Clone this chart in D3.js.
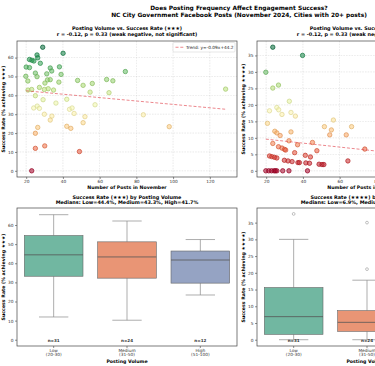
<!DOCTYPE html>
<html><head><meta charset="utf-8">
<script src="https://cdn.jsdelivr.net/npm/d3@7"></script>
<style>body{margin:0;background:#fff} svg text{font-family:"DejaVu Sans",sans-serif}</style>
</head><body><svg id="c" width="375" height="366"></svg>
<script>
// ---------------- DATA ----------------
const postsA = [29.0,40.1,21.8,23.1,24.2,25.9,26.3,27.7,20.0,21.8,33.1,33.9,38.1,19.8,20.9,25.0,25.9,31.2,39.0,74.0,31.6,33.1,30.2,37.8,48.0,51.0,56.0,63.8,67.2,27.2,32.0,29.9,34.9,21.0,23.0,54.8,65.1,25.0,29.2,42.1,36.2,57.5,24.1,26.0,27.2,43.6,45.0,29.9,46.1,34.0,33.1,52.0,51.0,83.8,97.9,42.1,44.3,26.3,25.0,25.0,30.1,49.0,23.0,128.6];
const rate3 = [65.5,62.3,59.0,58.6,58.2,61.4,59.9,57.0,55.0,54.7,54.5,52.9,55.1,50.1,47.6,51.8,49.9,51.4,51.1,52.6,48.2,48.3,46.5,47.0,47.9,45.3,46.3,48.4,47.7,44.2,43.5,43.1,42.8,42.8,43.1,41.7,41.4,39.8,37.7,37.9,35.9,35.0,33.3,34.3,33.1,32.6,33.3,30.0,30.4,29.0,26.9,28.7,25.5,29.7,23.4,23.6,22.5,23.0,19.9,11.9,13.2,10.2,0.0,43.3];
const postsB = [23.6,39.8,19.8,23.6,26.7,32.6,21.8,25.8,26.8,28.6,33.5,35.9,20.7,56.6,51.7,55.5,66.5,54.6,63.6,24.7,25.8,27.6,33.5,32.4,23.6,37.1,45.2,26.7,28.6,30.0,30.6,47.6,35.5,21.8,23.1,24.5,25.8,41.3,44.1,29.9,31.9,34.1,37.3,38.1,41.6,43.6,48.8,50.4,51.4,64.5,73.7,19.8,21.4,22.9,24.3,25.0,25.8,29.0,32.4,42.5];
const rate4 = [37.5,35.0,29.9,25.1,26.0,21.1,18.2,19.2,18.5,17.1,17.7,16.6,14.4,15.4,13.4,12.4,13.4,10.9,10.9,12.0,11.5,10.7,11.8,9.1,8.3,7.9,8.6,7.3,6.9,6.5,6.3,6.1,5.5,4.5,4.3,4.1,3.9,4.7,4.2,3.2,3.0,2.8,2.5,2.5,2.4,2.3,2.0,1.9,1.9,3.0,6.6,0,0,0,0,0,0,0,0,0];
const trendA = {slope:-0.09, intercept:44.2, x0:20, x1:128.6};
const trendB = {slope:-0.06, intercept:10.8, x0:19.8, x1:128.6};
const groups = ["Low\n(20-30)","Medium\n(31-50)","High\n(51-100)"];
const groupN = [31,24,12];
// box stats: [whiskerLow, q1, median, q3, whiskerHigh]
const box3 = [[11.9,33.2,44.4,54.5,65.4],[10.2,32.2,43.3,51.2,62.1],[23.4,29.6,41.7,46.4,52.4]];
const box4 = [[0,1.6,6.9,15.6,30.0],[0,2.5,5.2,8.7,17.8],[0,1.0,3.5,6.0,9.0]];
const fliers4 = [[37.6],[35.0,21.1],[]];
const xTicks = [20,40,60,80,100,120];
const yTicks3 = [0,10,20,30,40,50,60];
const yTicks4 = [0,5,10,15,20,25,30,35];
const boxColors = ["#71b7a1","#e99575","#95a3c3"];

// ---------------- DRAW ----------------
const svg = d3.select("#c");
svg.append("rect").attr("width",375).attr("height",366).attr("fill","#fff");
const FS_T = 5.9, FS_S = 4.9, FS_L = 4.7, FS_K = 4.3;

svg.append("text").attr("x",239).attr("y",8).attr("text-anchor","middle").attr("dominant-baseline","central")
  .attr("font-size",FS_T).attr("font-weight","bold").text("Does Posting Frequency Affect Engagement Success?");
svg.append("text").attr("x",239).attr("y",14.8).attr("text-anchor","middle").attr("dominant-baseline","central")
  .attr("font-size",FS_T).attr("font-weight","bold").text("NC City Government Facebook Posts (November 2024, Cities with 20+ posts)");

function frame(g, x0,x1,y0,y1){
  g.append("rect").attr("x",x0).attr("y",y0).attr("width",x1-x0).attr("height",y1-y0)
    .attr("fill","none").attr("stroke","#444").attr("stroke-width",0.7);
}
function yAxis(g, y, ticks, x0){
  const a = g.append("g").attr("transform",`translate(${x0},0)`).call(d3.axisLeft(y).tickValues(ticks).tickSize(2).tickPadding(1.5));
  a.select(".domain").remove();
  a.selectAll("line").attr("stroke","#444").attr("stroke-width",0.6);
  a.selectAll("text").attr("font-size",FS_K).attr("fill","#333").attr("font-family","DejaVu Sans");
}
function xAxisLin(g, x, ticks, y1){
  const a = g.append("g").attr("transform",`translate(0,${y1})`).call(d3.axisBottom(x).tickValues(ticks).tickSize(2).tickPadding(1.2));
  a.select(".domain").remove();
  a.selectAll("line").attr("stroke","#444").attr("stroke-width",0.6);
  a.selectAll("text").attr("font-size",FS_K).attr("fill","#333").attr("font-family","DejaVu Sans");
}
function titles(g, cx, y, l1, l2){
  g.append("text").attr("x",cx).attr("y",y).attr("text-anchor","middle").attr("dominant-baseline","central")
    .attr("font-size",FS_S).attr("font-weight","bold").text(l1);
  g.append("text").attr("x",cx).attr("y",y+5.6).attr("text-anchor","middle").attr("dominant-baseline","central")
    .attr("font-size",FS_S).attr("font-weight","bold").text(l2);
}
function ylabel(g, x, cy, t){
  g.append("text").attr("transform",`translate(${x},${cy}) rotate(-90)`).attr("text-anchor","middle")
    .attr("dominant-baseline","central").attr("font-size",FS_L).attr("font-weight","bold").text(t);
}
function xlabel(g, cx, y, t){
  g.append("text").attr("x",cx).attr("y",y).attr("text-anchor","middle").attr("dominant-baseline","central")
    .attr("font-size",FS_L).attr("font-weight","bold").text(t);
}

function scatterPanel(x0, x1, posts, rates, yDom, yTicks, trend, stars, legend){
  const y0 = 41, y1 = 177;
  const g = svg.append("g");
  const x = d3.scaleLinear().domain([15.0,134.8]).range([x0,x1]);
  const y = d3.scaleLinear().domain(yDom).range([y1,y0]);
  const cmax = d3.max(rates);
  const col = v => d3.interpolateRdYlGn(v / cmax);
  g.append("g").selectAll("line").data(xTicks).join("line")
    .attr("x1",d=>x(d)).attr("x2",d=>x(d)).attr("y1",y0).attr("y2",y1)
    .attr("stroke","#bbb").attr("stroke-width",0.5).attr("stroke-dasharray","1.5,1.2").attr("opacity",0.6);
  g.append("g").selectAll("line").data(yTicks).join("line")
    .attr("y1",d=>y(d)).attr("y2",d=>y(d)).attr("x1",x0).attr("x2",x1)
    .attr("stroke","#bbb").attr("stroke-width",0.5).attr("stroke-dasharray","1.5,1.2").attr("opacity",0.6);
  g.append("g").selectAll("circle").data(posts.map((p,i)=>[p,rates[i]])).join("circle")
    .attr("cx",d=>x(d[0])).attr("cy",d=>y(d[1])).attr("r",2.2)
    .attr("fill",d=>col(d[1])).attr("fill-opacity",0.55)
    .attr("stroke",d=>d3.color(col(d[1])).darker(0.35)).attr("stroke-opacity",0.8).attr("stroke-width",0.9);
  g.append("line").attr("x1",x(trend.x0)).attr("x2",x(trend.x1))
    .attr("y1",y(trend.slope*trend.x0+trend.intercept)).attr("y2",y(trend.slope*trend.x1+trend.intercept))
    .attr("stroke","#e0404a").attr("stroke-opacity",0.7).attr("stroke-width",0.9).attr("stroke-dasharray","3,1.8");
  frame(g,x0,x1,y0,y1);
  yAxis(g,y,yTicks,x0);
  xAxisLin(g,x,xTicks,y1);
  const cx = (x0+x1)/2;
  titles(g, cx, 28.3, `Posting Volume vs. Success Rate (${stars})`, "r = -0.12, p = 0.33 (weak negative, not significant)");
  ylabel(g, x0-13.5, (y0+y1)/2, `Success Rate (% achieving ${stars})`);
  xlabel(g, cx, 187, "Number of Posts in November");
  if (legend){
    const lx = x1-64, ly = y0+1.5;
    g.append("rect").attr("x",lx).attr("y",ly).attr("width",62).attr("height",9.5).attr("rx",1)
      .attr("fill","#fff").attr("fill-opacity",0.8).attr("stroke","#ccc").attr("stroke-width",0.5);
    g.append("line").attr("x1",lx+2.5).attr("x2",lx+10.5).attr("y1",ly+4.75).attr("y2",ly+4.75)
      .attr("stroke","#e0404a").attr("stroke-opacity",0.7).attr("stroke-width",0.9).attr("stroke-dasharray","3,1.8");
    g.append("text").attr("x",lx+13).attr("y",ly+4.9).attr("dominant-baseline","central")
      .attr("font-size",FS_K).attr("fill","#222").text(`Trend: y=${trend.slope.toFixed(2)}x+${trend.intercept.toFixed(1)}`);
  }
}

function boxPanel(x0, x1, stats, fliers, yDom, yTicks, stars){
  const y0 = 208, y1 = 346;
  const g = svg.append("g");
  const x = d3.scaleLinear().domain([-0.5,2.5]).range([x0,x1]);
  const y = d3.scaleLinear().domain(yDom).range([y1,y0]);
  const bw = (x(1)-x(0))*0.8;
  const lc = "#8a8a8a";
  stats.forEach((s,i)=>{
    const cx = x(i);
    g.append("line").attr("x1",cx).attr("x2",cx).attr("y1",y(s[0])).attr("y2",y(s[1])).attr("stroke",lc).attr("stroke-width",0.7);
    g.append("line").attr("x1",cx).attr("x2",cx).attr("y1",y(s[3])).attr("y2",y(s[4])).attr("stroke",lc).attr("stroke-width",0.7);
    g.append("line").attr("x1",cx-bw/4).attr("x2",cx+bw/4).attr("y1",y(s[0])).attr("y2",y(s[0])).attr("stroke",lc).attr("stroke-width",0.7);
    g.append("line").attr("x1",cx-bw/4).attr("x2",cx+bw/4).attr("y1",y(s[4])).attr("y2",y(s[4])).attr("stroke",lc).attr("stroke-width",0.7);
    g.append("rect").attr("x",cx-bw/2).attr("width",bw).attr("y",y(s[3])).attr("height",y(s[1])-y(s[3]))
      .attr("fill",boxColors[i]).attr("stroke","#666").attr("stroke-width",0.6);
    g.append("line").attr("x1",cx-bw/2).attr("x2",cx+bw/2).attr("y1",y(s[2])).attr("y2",y(s[2])).attr("stroke","#555").attr("stroke-width",0.8);
    (fliers ? fliers[i] : []).forEach(f=>{
      g.append("circle").attr("cx",cx).attr("cy",y(f)).attr("r",1.4).attr("fill","none").attr("stroke","#999").attr("stroke-width",0.6);
    });
    g.append("text").attr("x",cx).attr("y",y(0)+1).attr("text-anchor","middle").attr("dominant-baseline","central")
      .attr("font-size",FS_K-0.2).attr("font-weight","bold").attr("fill","#333").text(`n=${groupN[i]}`);
    const lab = groups[i].split("\n");
    g.append("text").attr("x",cx).attr("y",350).attr("text-anchor","middle").attr("dominant-baseline","central")
      .attr("font-size",FS_K).attr("fill","#333").text(lab[0]);
    g.append("text").attr("x",cx).attr("y",354.6).attr("text-anchor","middle").attr("dominant-baseline","central")
      .attr("font-size",FS_K).attr("fill","#333").text(lab[1]);
    g.append("line").attr("x1",cx).attr("x2",cx).attr("y1",y1).attr("y2",y1+2).attr("stroke","#444").attr("stroke-width",0.6);
  });
  frame(g,x0,x1,y0,y1);
  yAxis(g,y,yTicks,x0);
  const cx = (x0+x1)/2;
  const m = stats.map(s=>s[2]);
  titles(g, cx, 196.7, `Success Rate (${stars}) by Posting Volume`, `Medians: Low=${m[0]}%, Medium=${m[1]}%, High=${m[2]}%`);
  ylabel(g, x0-13.5, (y0+y1)/2, `Success Rate (% achieving ${stars})`);
  xlabel(g, cx, 361.3, "Posting Volume");
}

scatterPanel(17, 237, postsA, rate3, [-3.28,68.8], yTicks3, trendA, "★★★", true);
scatterPanel(257, 477, postsB, rate4, [-1.875,39.375], yTicks4, trendB, "★★★★", true);
boxPanel(17, 237, box3, null, [-3.28,68.9], yTicks3, "★★★");
boxPanel(257, 477, box4, fliers4, [-1.875,39.375], yTicks4, "★★★★");
</script></body></html>
